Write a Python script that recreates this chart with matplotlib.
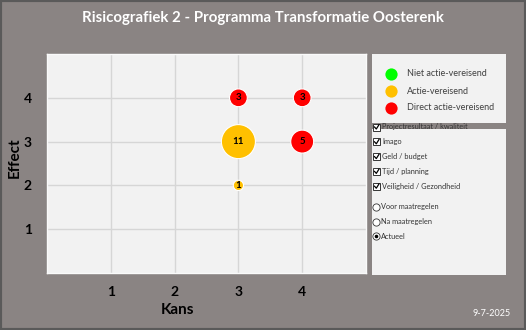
import matplotlib
matplotlib.use("Agg")
import matplotlib.pyplot as plt
from matplotlib.patches import Rectangle
from matplotlib.lines import Line2D

plt.rcParams['font.family'] = ['Lato', 'DejaVu Sans']

# ----------------------------
# Data
# ----------------------------
kans = [3, 4, 3, 4, 3]
effect = [4, 4, 3, 3, 2]
aantal = [3, 3, 11, 5, 1]
status = ["direct", "direct", "actie", "direct", "actie"]

kleuren = {"niet": "#00ff00", "actie": "#ffc000", "direct": "#ff0000"}
legenda = [("niet", "Niet actie-vereisend"),
           ("actie", "Actie-vereisend"),
           ("direct", "Direct actie-vereisend")]
categorieen = ["Projectresultaat / kwaliteit", "Imago", "Geld / budget",
               "Tijd / planning", "Veiligheid / Gezondheid"]
opties = ["Voor maatregelen", "Na maatregelen", "Actueel"]
gekozen = "Actueel"

ticks = [1, 2, 3, 4]
titel = "Risicografiek 2 - Programma Transformatie Oosterenk"
datum = "9-7-2025"

W, H = 526, 330
bg = "#8a8483"
panel = "#f2f2f2"


def fx(x):
    return x / W


def fy(y):
    return 1 - y / H


def marker(x, y, size, face, edge="none", lw=0.0):
    fig.lines.append(Line2D([fx(x)], [fy(y)], transform=fig.transFigure,
                            marker="o", markersize=size,
                            markerfacecolor=face, markeredgecolor=edge,
                            markeredgewidth=lw, linestyle="none"))


fig = plt.figure(figsize=(W / 100, H / 100), dpi=100)
fig.patch.set_facecolor(bg)

# outer border
fig.patches.append(Rectangle((0, 0), 1, 1, transform=fig.transFigure,
                             fill=False, edgecolor="#5a5a5a", linewidth=3))

fig.text(fx(263), fy(18), titel, color="white", fontsize=10.8,
         fontweight="bold", ha="center", va="center")

# ----------------------------
# Main bubble chart
# ----------------------------
ax = fig.add_axes([fx(47), fy(273), fx(366) - fx(47), (273 - 54) / H])
ax.set_facecolor(panel)
ax.set_xlim(0, 5)
ax.set_ylim(0, 5)
ax.set_xticks(ticks)
ax.set_yticks(ticks)
ax.grid(True, color="#d6d6d6", linewidth=1)
ax.set_axisbelow(True)
for s in ax.spines.values():
    s.set_edgecolor("#fafafa")
    s.set_linewidth(1)
ax.tick_params(length=0, labelsize=10)
for lab in ax.get_xticklabels() + ax.get_yticklabels():
    lab.set_fontweight("bold")
ax.tick_params(axis="y", pad=11)
ax.tick_params(axis="x", pad=9)
ax.set_xlabel("Kans", fontsize=11, fontweight="bold")
ax.set_ylabel("Effect", fontsize=11, fontweight="bold")
ax.xaxis.set_label_coords((177 - 47) / 319, -(310 - 273) / 219)
ax.yaxis.set_label_coords((15 - 47) / 319, (273 - 158) / 219)
ax.xaxis.label.set_va("center")
ax.yaxis.label.set_va("center")

ax.scatter(kans, effect, s=[a * 54.6 for a in aantal],
           c=[kleuren[s] for s in status], edgecolors="white",
           linewidths=0.8, zorder=3)
for x, y, a in zip(kans, effect, aantal):
    ax.text(x, y, str(a), ha="center", va="center", fontsize=7,
            fontweight="bold", zorder=4)

# ----------------------------
# Legend panels
# ----------------------------
fig.patches.append(Rectangle((fx(372), fy(123)), fx(506) - fx(372),
                             (123 - 54) / H, transform=fig.transFigure,
                             facecolor=panel, edgecolor="none"))
fig.patches.append(Rectangle((fx(372), fy(275)), fx(506) - fx(372),
                             (275 - 129) / H, transform=fig.transFigure,
                             facecolor=panel, edgecolor="none"))

for i, (key, label) in enumerate(legenda):
    y = 74 + i * 17
    marker(391, y, 8.8, kleuren[key])
    fig.text(fx(407), fy(y), label, fontsize=6.5, color="#404040",
             va="center")

for i, label in enumerate(categorieen):
    y = 127 + i * 14.8
    fig.patches.append(Rectangle((fx(373), fy(y + 3.5)), 7 / W, 7 / H,
                                 transform=fig.transFigure,
                                 facecolor="white", edgecolor="#333333",
                                 linewidth=0.7))
    fig.lines.append(Line2D([fx(374.5), fx(376.3), fx(379)],
                            [fy(y), fy(y + 2), fy(y - 2.3)],
                            transform=fig.transFigure, color="black",
                            linewidth=0.9))
    fig.text(fx(382), fy(y), label, fontsize=5.3, color="#333333",
             va="center")

for i, label in enumerate(opties):
    y = 207 + i * 14.7
    marker(376, y, 5.2, "white", "#333333", 0.6)
    if label == gekozen:
        marker(376, y, 2.6, "black")
    fig.text(fx(381), fy(y), label, fontsize=5.3, color="#333333",
             va="center")

fig.text(fx(492), fy(314), datum, color="white", fontsize=6.5,
         ha="center", va="center")

fig.savefig("out.png", dpi=100, facecolor=fig.get_facecolor())
